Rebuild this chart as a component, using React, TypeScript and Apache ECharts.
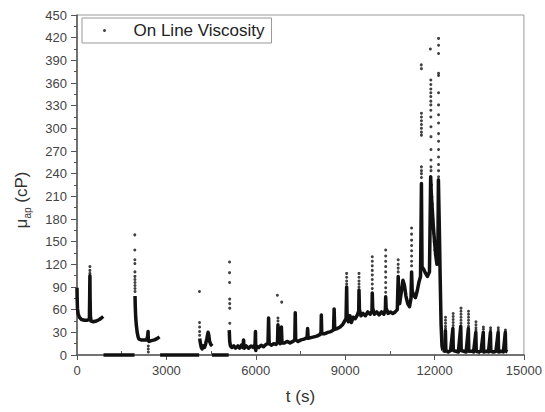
import React, { useEffect, useRef } from "react";
import * as echarts from "echarts";

// ---- Data (t in s, viscosity in cP) ----
const xTicks = [0, 3000, 6000, 9000, 12000, 15000];
const yTicks = [0, 30, 60, 90, 120, 150, 180, 210, 240, 270, 300, 330, 360, 390, 420, 450];

// dense parts of the on-line trace
const seg1 = [[0,89],[5,75],[15,62],[40,54],[80,50],[150,47],[250,46],[350,46],[415,47],[425,75],[433,105],[440,75],[450,52],[470,45],[550,44],[650,45],[750,47],[820,49],[880,51]];
const zeroA = [[890,0],[1930,0]];
const seg2 = [[1948,78],[1955,65],[1970,50],[1990,40],[2020,30],[2050,24],[2080,21],[2150,20],[2250,20],[2340,20],[2370,25],[2385,31],[2395,19],[2420,18],[2500,19],[2600,20],[2700,22],[2770,24]];
const zeroB = [[2790,0],[4100,0]];
const seg3 = [[4118,22],[4140,16],[4170,10],[4200,8],[4240,12],[4280,10],[4320,15],[4360,22],[4400,30],[4420,27],[4450,18],[4490,14],[4540,12]];
const zeroC = [[4530,0],[5090,0]];
const seg4 = [[5110,33],[5125,18],[5150,12],[5200,10],[5260,12],[5320,9],[5400,12],[5460,9],[5520,13],[5570,10],[5590,20],[5610,9],[5680,12],[5760,9],[5840,12],[5920,10],[5975,14],[5990,31],[6000,6],[6020,12],[6100,10],[6180,13],[6260,11],[6340,14],[6410,15],[6430,49],[6450,15],[6520,13],[6600,15],[6680,14],[6730,17],[6745,40],[6760,17],[6820,15],[6860,37],[6880,16],[6960,16],[7050,18],[7150,16],[7250,18],[7310,20],[7325,56],[7340,20],[7420,18],[7520,20],[7620,21],[7720,23],[7740,35],[7760,22],[7850,23],[7950,24],[8050,25],[8150,27],[8190,30],[8200,53],[8215,28],[8300,28],[8420,30],[8520,31],[8610,33],[8630,61],[8650,34],[8740,35],[8830,37],[8910,40],[8970,44],[9030,48],[9050,90],[9065,52],[9110,44],[9160,52],[9210,43],[9270,50],[9340,48],[9410,53],[9455,58],[9465,86],[9480,60],[9530,52],[9600,55],[9680,52],[9760,57],[9840,54],[9900,58],[9910,82],[9925,62],[9980,54],[10060,57],[10140,53],[10220,57],[10300,54],[10350,60],[10360,77],[10375,62],[10440,55],[10520,57],[10600,55],[10680,57],[10750,60],[10780,104],[10800,72],[10830,68],[10880,82],[10940,99],[10990,92],[11040,78],[11100,68],[11160,64],[11210,75],[11230,110],[11250,85],[11300,79],[11360,76],[11420,85],[11480,97],[11530,104],[11560,227],[11580,117],[11640,113],[11700,108],[11760,104],[11830,110],[11870,236],[11890,215],[11920,195],[11960,170],[12000,150],[12040,132],[12080,120],[12110,122],[12130,232],[12160,170],[12190,100],[12220,40],[12250,12],[12280,6]];
const seg5 = [[12280,6],[12340,5],[12365,32],[12380,6],[12460,4],[12540,6],[12615,35],[12630,6],[12720,5],[12800,4],[12880,38],[12895,6],[12980,5],[13060,4],[13135,35],[13150,5],[13240,5],[13310,4],[13385,30],[13400,5],[13490,4],[13560,5],[13635,30],[13650,4],[13740,5],[13810,4],[13875,30],[13890,5],[13980,4],[14060,5],[14135,30],[14150,4],[14240,5],[14310,4],[14375,30],[14390,5],[14450,4]];

// sparse points at the tops of the spikes
const dotsEarly = [[433,117],[433,112],[433,108],[1940,159],[1940,139],[1942,126],[1942,121],[1944,110],[1944,104],[1945,100],[1946,96],[1946,92],[1947,88],[1948,84],[2392,12],[2392,8],[2394,4],[4110,84],[4112,43],[4114,37],[4114,31],[4116,26],[5120,123],[5120,109],[5122,96],[5124,74],[5126,68],[5126,62],[5128,42],[6725,79],[6870,70],[6745,49],[6745,45]];
const dotsMid = [[9050,108],[9050,103],[9050,98],[9050,94],[9465,108],[9465,103],[9465,98],[9465,94],[9465,90],[9910,130],[9910,124],[9910,118],[9910,112],[9910,106],[9910,100],[9910,94],[9910,88],[10360,139],[10360,131],[10360,124],[10360,117],[10360,110],[10360,103],[10360,96],[10360,89],[10360,83],[10780,126],[10780,120],[10780,115],[10780,110],[11230,168],[11230,160],[11230,152],[11230,145],[11230,138],[11230,131],[11230,124],[11230,118]];
const dotsTall = [[11555,384],[11560,379],[11560,320],[11560,315],[11560,310],[11560,305],[11560,300],[11560,295],[11560,291],[11560,249],[11560,244],[11560,240],[11560,235],[11860,405],[11875,364],[11875,358],[11875,352],[11875,347],[11875,342],[11875,336],[11875,331],[11875,324],[11875,315],[11880,302],[11880,289],[11880,272],[11880,258],[11880,249],[11880,244],[11900,225],[11910,209],[11920,200],[11930,190],[11940,179],[11970,161],[11990,150],[12010,139],[12135,419],[12135,410],[12135,399],[12135,373],[12135,370],[12135,347],[12135,331],[12135,318],[12135,307],[12135,293],[12135,283],[12135,272],[12135,262],[12135,252],[12135,244],[12135,236]];
const dotsLate = [[12368,50],[12368,46],[12368,42],[12368,38],[12368,35],[12625,55],[12625,51],[12625,47],[12625,43],[12625,39],[12888,62],[12888,58],[12888,54],[12888,50],[12888,46],[12888,42],[13140,58],[13140,54],[13140,50],[13140,46],[13140,42],[13140,38],[13390,44],[13390,40],[13390,36],[13390,33],[13640,37],[13640,34],[13880,36],[13880,33],[14140,36],[14140,33],[14380,33]];

const seriesName = "On Line Viscosity";
const traceSegments = [seg1, zeroA, seg2, zeroB, seg3, zeroC, seg4, seg5];

export default function App() {
  const ref = useRef<HTMLDivElement>(null);
  useEffect(() => {
    if (!ref.current) return;
    const chart = echarts.init(ref.current, null, { renderer: "svg" });
    const font = "Liberation Sans, Arial, sans-serif";
    const lineSeries = traceSegments.map((seg, i) => ({
      name: "trace" + i,
      type: "line",
      data: seg,
      showSymbol: false,
      symbol: "none",
      silent: true,
      clip: false,
      lineStyle: { color: "#111", width: 3.5, join: "round" },
      z: 2,
    }));
    chart.setOption({
      animation: false,
      backgroundColor: "#fff",
      grid: { left: 77, right: 20, top: 15, bottom: 57, show: true, borderColor: "#999", borderWidth: 1 },
      legend: {
        data: [seriesName],
        left: 82,
        top: 18,
        orient: "vertical",
        icon: "circle",
        itemWidth: 42,
        itemHeight: 3,
        itemGap: 0,
        padding: [4, 7, 4, 21],
        borderColor: "#999",
        borderWidth: 1,
        textStyle: { fontFamily: font, fontSize: 17, color: "#222", padding: [0, 0, 0, 3] },
      },
      xAxis: {
        type: "value",
        min: xTicks[0],
        max: xTicks[xTicks.length - 1],
        interval: 3000,
        name: "t (s)",
        nameLocation: "middle",
        nameGap: 33,
        nameTextStyle: { fontFamily: font, fontSize: 17, color: "#333" },
        axisLine: { show: true, onZero: false, lineStyle: { color: "#555", width: 1.5 } },
        axisTick: { show: true, inside: false, length: 5, lineStyle: { color: "#555" } },
        minorTick: { show: true, splitNumber: 2, length: -4, lineStyle: { color: "#555" } },
        splitLine: { show: false },
        axisLabel: { fontFamily: font, fontSize: 13, color: "#444", margin: 9, formatter: (v: number) => String(v) },
      },
      yAxis: {
        type: "value",
        min: yTicks[0],
        max: yTicks[yTicks.length - 1],
        interval: 30,
        axisLine: { show: true, onZero: false, lineStyle: { color: "#555", width: 1.5 } },
        axisTick: { show: true, inside: false, length: 6, lineStyle: { color: "#555" } },
        minorTick: { show: true, splitNumber: 2, length: 3, lineStyle: { color: "#555" } },
        splitLine: { show: false },
        axisLabel: { fontFamily: font, fontSize: 13, color: "#444", margin: 10, formatter: (v: number) => String(v) },
      },
      graphic: [
        {
          type: "text",
          x: 21,
          y: 200,
          rotation: Math.PI / 2,
          style: {
            text: "{m|μ}{s|ap}{m| (cP)}",
            align: "center",
            verticalAlign: "middle",
            fill: "#333",
            rich: {
              m: { fontFamily: font, fontSize: 17, lineHeight: 22, fill: "#333" },
              s: { fontFamily: font, fontSize: 10, lineHeight: 10, verticalAlign: "bottom", fill: "#333" },
            },
          },
        },
      ],
      series: [
        ...lineSeries,
        {
          name: seriesName,
          type: "scatter",
          data: [...dotsEarly, ...dotsMid, ...dotsTall, ...dotsLate],
          symbol: "circle",
          symbolSize: 3,
          itemStyle: { color: "#111" },
          z: 3,
        },
      ],
    });
    return () => chart.dispose();
  }, []);
  return <div ref={ref} style={{ position: "fixed", left: 0, top: 0, width: 545, height: 412 }} />;
}
